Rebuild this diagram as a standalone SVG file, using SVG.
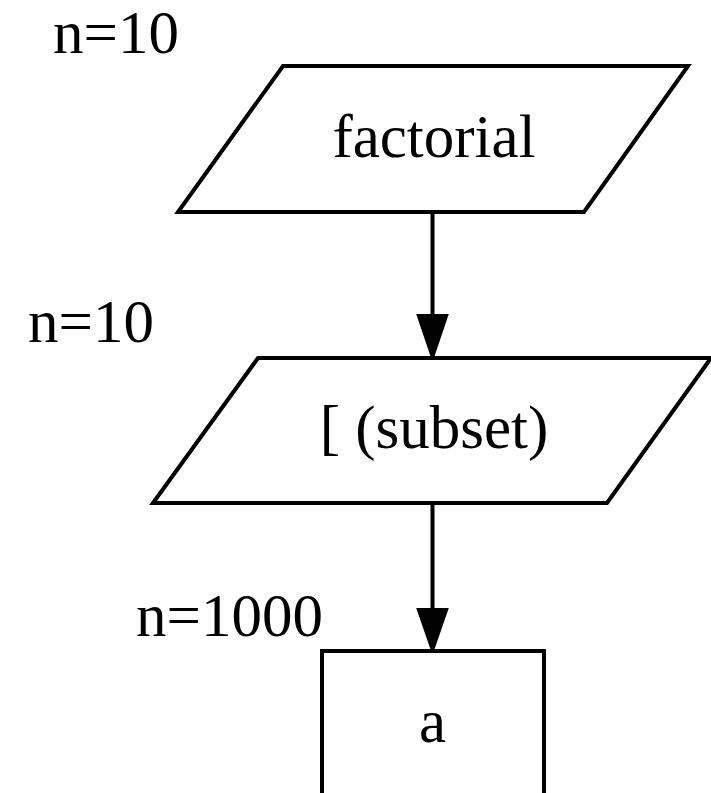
<svg xmlns="http://www.w3.org/2000/svg" width="711" height="793" viewBox="0 0 711 793">
<style>
.shape{fill:#fff;stroke:#000;stroke-width:4;stroke-linejoin:miter}
.edge{stroke:#000;stroke-width:4;fill:none}
.head{fill:#000;stroke:#000;stroke-width:4}
text{font-family:"Liberation Serif","Times New Roman",serif;font-size:61px;fill:#000}
.c{text-anchor:middle}
.e{text-anchor:end}
</style>
<rect width="711" height="793" fill="#fff"/>
<g id="connectors">
<path class="edge" d="M432.5,212 V316"/>
<polygon class="head" points="419,316 446,316 432.5,356"/>
<path class="edge" d="M432.5,503 V610"/>
<polygon class="head" points="419,610 446,610 432.5,649"/>
</g>
<g id="node-factorial">
<polygon class="shape" points="283,66 688,66 584,212 178,212"/>
<text class="c" x="434" y="157">factorial</text>
<text class="e" x="179" y="53">n=10</text>
</g>
<g id="node-subset">
<polygon class="shape" points="258,358 711,358 607,503 153,503"/>
<text class="c" x="434" y="448">[ (subset)</text>
<text class="e" x="154" y="342">n=10</text>
</g>
<g id="node-a">
<rect class="shape" x="322" y="651" width="222" height="160"/>
<text class="c" x="432.5" y="742">a</text>
<text class="e" x="323" y="636">n=1000</text>
</g>
</svg>
